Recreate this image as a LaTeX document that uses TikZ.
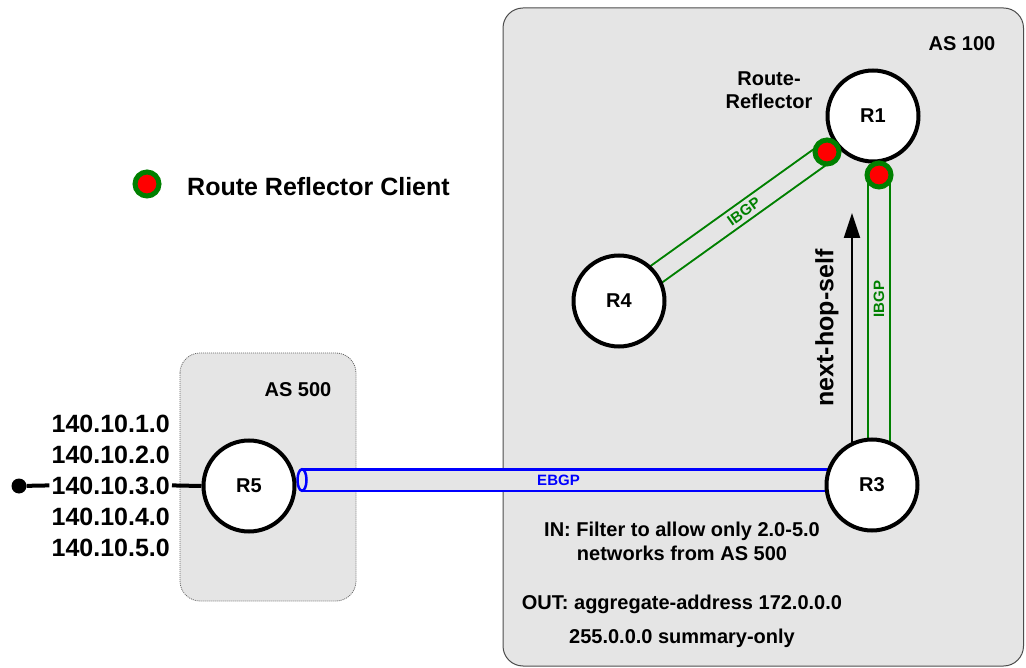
\documentclass[tikz,border=0pt]{standalone}
\usepackage{fontspec}
\setmainfont{Liberation Sans}
\usetikzlibrary{arrows.meta}
\pgfdeclarelayer{boxes}
\pgfdeclarelayer{links}
\pgfsetlayers{boxes,links,main}

\definecolor{asgray}{RGB}{229,229,229}
\definecolor{ibgpgreen}{RGB}{0,128,0}
\definecolor{ebgpblue}{RGB}{0,0,255}
\definecolor{rrred}{RGB}{255,0,0}

\tikzset{
  router/.style={circle, draw=black, line width=4pt, fill=white, minimum size=91pt,
    inner sep=0pt, font=\fontsize{20}{24}\selectfont\bfseries},
  asbox/.style={fill=asgray, rounded corners=20pt},
  txtmid/.style={font=\fontsize{20}{24}\selectfont\bfseries, inner sep=0pt},
  txtbig/.style={font=\fontsize{25}{30}\selectfont\bfseries, inner sep=0pt},
  rrclient/.style={circle, draw=ibgpgreen, line width=5pt, fill=rrred,
    minimum size=24pt, inner sep=0pt},
  ibgp/.style={draw=ibgpgreen, line width=2pt, double=asgray},
  ebgp/.style={draw=ebgpblue, line width=2.5pt, double=asgray, double distance=19pt},
  tubelabel/.style={font=\fontsize{15}{18}\selectfont\bfseries, inner sep=0pt},
}

\begin{document}
\begin{tikzpicture}[x=1pt,y=-1pt]
\useasboundingbox (0,0) rectangle (1026,668);

% autonomous systems
\begin{pgfonlayer}{boxes}
  \draw[asbox, draw=black!70, line width=1pt] (503,8) rectangle (1023.5,666);
  \draw[asbox, draw=black!60, line width=0.8pt, dash pattern=on 1pt off 1pt]
    (180,353) rectangle (356,601);
\end{pgfonlayer}

\node[txtmid] (as100) at (962,44) {AS 100};
\node[txtmid] (as500) at (298,390) {AS 500};

% routers
\node[router] (r1) at (873,116) {R1};
\node[router] (r4) at (619,301) {R4};
\node[router] (r3) at (872,485) {R3};
\node[router] (r5) at (249,486) {R5};

% route reflector clients
\node[rrclient] (d1) at (827,152) {};
\node[rrclient] (d2) at (879,175) {};

% legend
\node[rrclient] (legdot) at (147,184) {};
\node[txtbig, anchor=base west] (legtext) at (187,196) {Route Reflector Client};

\node[txtmid, align=center, font=\fontsize{20}{23}\selectfont\bfseries]
  (rrlabel) at (769,90) {Route-\\Reflector};

% networks behind R5
\node[txtbig, anchor=base east, inner sep=2pt] (net1) at (172,432) {140.10.1.0};
\node[txtbig, anchor=base east, inner sep=2pt] (net2) at (172,463) {140.10.2.0};
\node[txtbig, anchor=base east, inner sep=2pt] (net3) at (172,494) {140.10.3.0};
\node[txtbig, anchor=base east, inner sep=2pt] (net4) at (172,525) {140.10.4.0};
\node[txtbig, anchor=base east, inner sep=2pt] (net5) at (172,556) {140.10.5.0};
\node[circle, fill=black, minimum size=15pt, inner sep=0pt] (netdot) at (19,486) {};
\draw[line width=4pt] (netdot) -- (net3.west);
\draw[line width=4pt] (net3.east) -- (r5.west);

% sessions
\coordinate (ebgpL) at ([xshift=5.5pt,yshift=6pt]r5.east);
\coordinate (ebgpR) at ([yshift=5pt]r3.center);
\coordinate (ibgpB) at (d2 |- r3.center);
\coordinate (nhtip) at (852,213);

\begin{pgfonlayer}{links}
  \draw[ibgp, double distance=18pt] (r4.center) -- (d1.center);
  \draw[ibgp, double distance=20pt] (d2.center) -- (ibgpB);
  \draw[ebgp] (ebgpL) -- (ebgpR);
  \draw[ebgpblue, line width=2.5pt, fill=asgray] (ebgpL) ellipse [x radius=4.5pt, y radius=10.75pt];
  \draw[line width=2pt, -{Triangle[length=25pt,width=16pt]}] (nhtip |- r3.center) -- (nhtip);
\end{pgfonlayer}

\path (r4.center) -- (d1.center)
  node[tubelabel, text=ibgpgreen, pos=0.6, sloped] (ibgp1) {IBGP};
\path (d2.center) -- (ibgpB)
  node[tubelabel, text=ibgpgreen, pos=0.4, rotate=90] (ibgp2) {IBGP};
\path (ebgpL) -- (ebgpR)
  node[tubelabel, text=ebgpblue, pos=0.45] (ebgplbl) {EBGP};

\node[txtbig, rotate=90] (nhs) at (827,328) {next-hop-self};

% policies on R3
\node[txtmid, anchor=base] (inpol1) at (682,536) {IN: Filter to allow only 2.0-5.0};
\node[txtmid, anchor=base] (inpol2) at (682,560) {networks from AS 500};
\node[txtmid, anchor=base] (outpol1) at (682,609) {OUT: aggregate-address 172.0.0.0};
\node[txtmid, anchor=base] (outpol2) at (682,643) {255.0.0.0 summary-only};
\end{tikzpicture}
\end{document}
